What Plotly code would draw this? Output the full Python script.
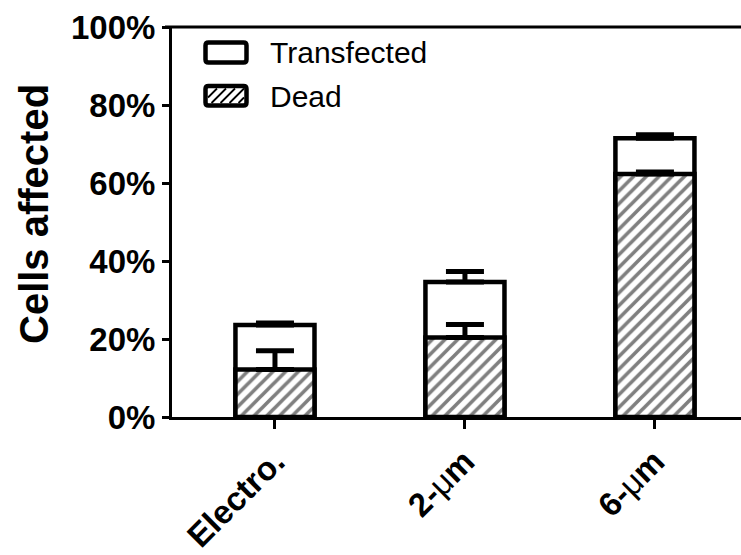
import plotly.graph_objects as go

# ---- data -------------------------------------------------------------
groups = ["Electro.", "2-μm", "6-μm"]
group_labels = [
    "Electro.",
    "2-<span style='font-weight:normal'>μ</span>m",
    "6-<span style='font-weight:normal'>μ</span>m",
]
dead = [12.2, 20.4, 62.3]          # % dead cells (lower, hatched segment)
dead_err = [4.8, 3.3, 0.5]
transfected = [11.4, 14.2, 9.2]    # % transfected cells (upper, open segment)
total_err = [0.5, 2.7, 0.9]
y_ticks = [0, 20, 40, 60, 80, 100]
y_tick_labels = ["0%", "20%", "40%", "60%", "80%", "100%"]

total = [d + t for d, t in zip(dead, transfected)]

# ---- layout geometry (pixels) -----------------------------------------
W_FIG, H_FIG = 741, 555
L, R, T, B = 172, 0, 27, 138
PW, PH = W_FIG - L - R, H_FIG - T - B


def px(x):
    return (x - L) / PW


def py(y):
    return (T + PH - y) / PH


def rounded_box(x0, y0, x1, y1, r=3):
    """Closed SVG path (paper coords) for a box with rounded corners."""
    p = [
        f"M{px(x0 + r)},{py(y0)}",
        f"L{px(x1 - r)},{py(y0)}",
        f"Q{px(x1)},{py(y0)} {px(x1)},{py(y0 + r)}",
        f"L{px(x1)},{py(y1 - r)}",
        f"Q{px(x1)},{py(y1)} {px(x1 - r)},{py(y1)}",
        f"L{px(x0 + r)},{py(y1)}",
        f"Q{px(x0)},{py(y1)} {px(x0)},{py(y1 - r)}",
        f"L{px(x0)},{py(y0 + r)}",
        f"Q{px(x0)},{py(y0)} {px(x0 + r)},{py(y0)}",
        "Z",
    ]
    return "".join(p)


FONT = "Liberation Sans, Arial, Helvetica, sans-serif"
LINE_W = 4.5

fig = go.Figure()

# open (transfected) segment drawn as the full stack height, underneath
fig.add_trace(go.Bar(
    x=groups, y=total, width=0.416, name="Transfected",
    marker=dict(color="white", line=dict(color="black", width=LINE_W)),
    error_y=dict(type="data", symmetric=False, array=total_err,
                 arrayminus=[0] * len(total_err),
                 color="black", thickness=5, width=19),
    showlegend=False,
))

# hatched (dead) segment on top of it
fig.add_trace(go.Bar(
    x=groups, y=dead, width=0.416, name="Dead",
    marker=dict(color="white",
                line=dict(color="black", width=LINE_W),
                pattern=dict(shape="/", fgcolor="black", bgcolor="white",
                             size=9, solidity=0.4)),
    error_y=dict(type="data", symmetric=False, array=dead_err,
                 arrayminus=[0] * len(dead_err),
                 color="black", thickness=5, width=19),
    showlegend=False,
))

shapes = []
# top rule at 100 %
shapes.append(dict(type="line", xref="paper", yref="paper", x0=px(165), x1=1,
                   y0=1, y1=1, line=dict(color="black", width=3)))

# hand-drawn legend swatches
sw_x0, sw_x1 = 205.5, 246.5
shapes.append(dict(type="path", xref="paper", yref="paper",
                   path=rounded_box(sw_x0, 42.5, sw_x1, 62.5),
                   line=dict(color="black", width=LINE_W), fillcolor="white"))
shapes.append(dict(type="path", xref="paper", yref="paper",
                   path=rounded_box(sw_x0, 86, sw_x1, 105.5),
                   line=dict(color="black", width=LINE_W), fillcolor="white"))

# hatching inside the "Dead" swatch
xa, xb, ya, yb = 208, 244, 88.5, 103
segs = []
k = xa + ya
while k < xb + yb:
    xs = max(xa, k - yb)
    xe = min(xb, k - ya)
    if xe > xs:
        segs.append(f"M{px(xs):.5f},{py(k - xs):.5f}L{px(xe):.5f},{py(k - xe):.5f}")
    k += 9
shapes.append(dict(type="path", xref="paper", yref="paper", path="".join(segs),
                   line=dict(color="black", width=1.8)))

annotations = [
    dict(text="Transfected", xref="paper", yref="paper", x=px(268), y=py(52),
         xanchor="left", yanchor="middle", showarrow=False,
         font=dict(family=FONT, size=30, color="black")),
    dict(text="Dead", xref="paper", yref="paper", x=px(268), y=py(96),
         xanchor="left", yanchor="middle", showarrow=False,
         font=dict(family=FONT, size=30, color="black")),
    dict(text="Cells affected", xref="paper", yref="paper", x=px(34), y=py(214),
         xanchor="center", yanchor="middle", textangle=-90, showarrow=False,
         font=dict(family=FONT, size=40, color="black", weight="bold")),
]

fig.update_layout(
    width=W_FIG, height=H_FIG,
    margin=dict(l=L, r=R, t=T, b=B, pad=0, autoexpand=False),
    paper_bgcolor="white", plot_bgcolor="white",
    barmode="overlay",
    showlegend=False,
    shapes=shapes,
    annotations=annotations,
    font=dict(family=FONT, color="black"),
)

fig.update_xaxes(
    type="category", range=[-0.542, 2.453], automargin=False,
    tickvals=groups, ticktext=group_labels, tickangle=-45,
    showline=True, linecolor="black", linewidth=3,
    ticks="outside", ticklen=9, tickwidth=3, tickcolor="black",
    showgrid=False, zeroline=False,
    tickfont=dict(family=FONT, size=33, color="black", weight="bold"),
)

fig.update_yaxes(
    range=[0, 100], tickvals=y_ticks, ticktext=y_tick_labels, automargin=False,
    showline=True, linecolor="black", linewidth=3,
    ticks="outside", ticklen=7, tickwidth=3, tickcolor="black",
    showgrid=False, zeroline=False,
    tickfont=dict(family=FONT, size=33, color="black", weight="bold"),
)

fig.write_html("out.html")
